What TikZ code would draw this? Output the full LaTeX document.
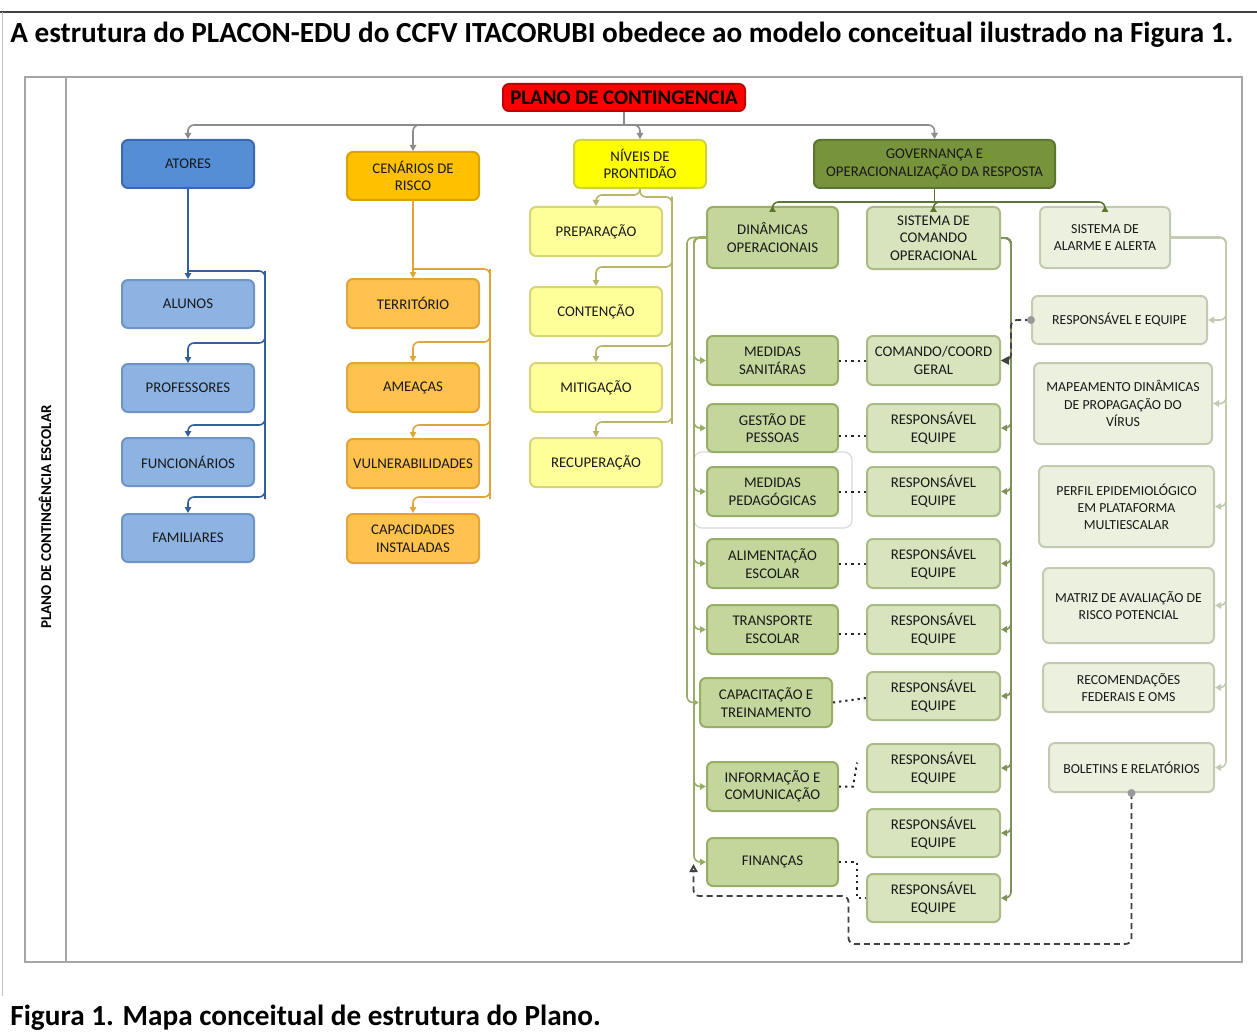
\documentclass[tikz,border=0pt]{standalone}
\usepackage{fontspec}
\setmainfont{Carlito}
\usetikzlibrary{arrows.meta,calc}
\definecolor{cRed}{HTML}{FF0000}
\definecolor{cRedD}{HTML}{C00000}
\definecolor{cBlue}{HTML}{558ED5}
\definecolor{cBlueD}{HTML}{3A6AAE}
\definecolor{cLB}{HTML}{8DB3E2}
\definecolor{cLBD}{HTML}{6E94C6}
\definecolor{cOr}{HTML}{FFC000}
\definecolor{cOrD}{HTML}{D9A300}
\definecolor{cLO}{HTML}{FFC24F}
\definecolor{cLOD}{HTML}{E0A53A}
\definecolor{cYel}{HTML}{FFFF00}
\definecolor{cYelD}{HTML}{D2D23A}
\definecolor{cLY}{HTML}{FFFF99}
\definecolor{cLYD}{HTML}{D8D47A}
\definecolor{cGov}{HTML}{77933C}
\definecolor{cGovD}{HTML}{5C7530}
\definecolor{cMG}{HTML}{C3D69B}
\definecolor{cMGD}{HTML}{98AE66}
\definecolor{cLG}{HTML}{D7E4BD}
\definecolor{cLGD}{HTML}{A9BC86}
\definecolor{cVG}{HTML}{EBF1DE}
\definecolor{cVGD}{HTML}{C2CBB2}
\newcommand\bx[7]{\node[box,#6,minimum width={((#4)-(#2))*0.5pt},minimum height={((#5)-(#3))*0.5pt}] (#1) at ({((#2)+(#4))/2},{((#3)+(#5))/2}) {#7};}
\begin{document}
\begin{tikzpicture}[x=0.5pt,y=-0.5pt,
  box/.style={draw,rounded corners=3pt,line width=1pt,align=center,inner sep=0pt,font=\fontsize{7.4}{8.8}\selectfont,text=black!90},
  lb/.style={fill=cLB,draw=cLBD},
  lo/.style={fill=cLO,draw=cLOD},
  ly/.style={fill=cLY,draw=cLYD},
  mg/.style={fill=cMG,draw=cMGD},
  lg/.style={fill=cLG,draw=cLGD},
  vg/.style={fill=cVG,draw=cVGD,font=\fontsize{6.9}{8.6}\selectfont},
  arr/.style={-{Triangle[length=3pt,width=3.2pt]}},
  oarr/.style={-{Triangle[open,length=4pt,width=4pt]}},
  rail/.style={line width=0.8pt,rounded corners=3pt},
  gb/.style={rail,draw=black!45},
  blr/.style={rail,draw=cBlueD!90!black},
  orr/.style={rail,draw=cLOD},
  yer/.style={rail,draw=cLYD!85!black},
  gvr/.style={rail,draw=cGovD},
  dnr/.style={rail,draw=cMGD},
  scr/.style={rail,draw=cGovD!80},
  sar/.style={rail,draw=cVGD},
  dotc/.style={line width=1pt,draw=black!85,dash pattern=on 1.1pt off 2pt},
  dshc/.style={line width=0.9pt,draw=black!75,dash pattern=on 3pt off 2pt,rounded corners=3pt}]
\useasboundingbox (0,0) rectangle (1257,1032);
\fill[white] (0,0) rectangle (1257,1032);
% page decoration
\draw[line width=1.1pt,draw=black!75] (0,12) -- (1257,12);
\draw[line width=0.5pt,draw=black!25] (2,12) -- (2,996);
\node[anchor=west,inner sep=0pt,font=\fontsize{14.6}{16}\selectfont\bfseries] (title) at (10,35) {A estrutura do PLACON-EDU do CCFV ITACORUBI obedece ao modelo conceitual ilustrado na Figura 1.};
\node[anchor=west,inner sep=0pt,font=\fontsize{14.6}{16}\selectfont\bfseries] (caption) at (10,1018) {Figura 1. Mapa conceitual de estrutura do Plano.};
% frame
\draw[line width=1.2pt,draw=black!35] (25,77) rectangle (1242,962);
\draw[line width=1.2pt,draw=black!35] (66,77) -- (66,962);
\node[rotate=90,font=\fontsize{7.5}{8}\selectfont\bfseries] (side) at (45,517) {PLANO DE CONTINGÊNCIA ESCOLAR};
% nodes
\bx{plano}{503}{84}{745}{111}{fill=cRed,draw=cRedD,text=black,font=\fontsize{10.4}{12}\selectfont\bfseries}{PLANO DE CONTINGENCIA}
\bx{atores}{122}{140}{254}{188}{fill=cBlue,draw=cBlueD}{ATORES}
\bx{alunos}{122}{280}{254}{328}{lb}{ALUNOS}
\bx{prof}{122}{364}{254}{412}{lb}{PROFESSORES}
\bx{func}{122}{438}{254}{486}{lb}{FUNCIONÁRIOS}
\bx{fam}{122}{514}{254}{562}{lb}{FAMILIARES}
\bx{cen}{347}{152}{479}{200}{fill=cOr,draw=cOrD}{CENÁRIOS DE\\RISCO}
\bx{terr}{347}{279}{479}{328}{lo}{TERRITÓRIO}
\bx{ame}{347}{363}{479}{412}{lo}{AMEAÇAS}
\bx{vul}{347}{439}{479}{488}{lo}{VULNERABILIDADES}
\bx{capi}{347}{514}{479}{563}{lo}{CAPACIDADES\\INSTALADAS}
\bx{niv}{574}{140}{706}{188}{fill=cYel,draw=cYelD}{NÍVEIS DE\\PRONTIDÃO}
\bx{prep}{530}{207}{662}{256}{ly}{PREPARAÇÃO}
\bx{cont}{530}{287}{662}{336}{ly}{CONTENÇÃO}
\bx{mit}{530}{363}{662}{412}{ly}{MITIGAÇÃO}
\bx{rec}{530}{438}{662}{487}{ly}{RECUPERAÇÃO}
\bx{gov}{814}{140}{1055}{188}{fill=cGov,draw=cGovD}{GOVERNANÇA E\\OPERACIONALIZAÇÃO DA RESPOSTA}
\bx{din}{707}{207}{838}{268}{mg}{DINÂMICAS\\OPERACIONAIS}
\bx{sco}{867}{207}{1000}{269}{lg}{SISTEMA DE\\COMANDO\\OPERACIONAL}
\bx{sal}{1040}{207}{1170}{268}{vg}{SISTEMA DE\\ALARME E ALERTA}
% extra faint outline
\draw[draw=black!15,line width=0.6pt,rounded corners=4pt] (694,452) rectangle (852,528);
\bx{ms}{707}{336}{838}{385}{mg}{MEDIDAS\\SANITÁRAS}
\bx{gp}{707}{404}{838}{452}{mg}{GESTÃO DE\\PESSOAS}
\bx{mp}{707}{467}{838}{516}{mg}{MEDIDAS\\PEDAGÓGICAS}
\bx{ae}{707}{539}{838}{588}{mg}{ALIMENTAÇÃO\\ESCOLAR}
\bx{te}{707}{605}{838}{654}{mg}{TRANSPORTE\\ESCOLAR}
\bx{ct}{700}{678}{832}{727}{mg}{CAPACITAÇÃO E\\TREINAMENTO}
\bx{ic}{707}{762}{838}{811}{mg}{INFORMAÇÃO E\\COMUNICAÇÃO}
\bx{fi}{707}{838}{838}{886}{mg}{FINANÇAS}
\bx{cc}{867}{336}{1000}{385}{lg}{COMANDO/COORD\\GERAL}
\bx{r1}{867}{404}{1000}{452}{lg}{RESPONSÁVEL\\EQUIPE}
\bx{r2}{867}{467}{1000}{516}{lg}{RESPONSÁVEL\\EQUIPE}
\bx{r3}{867}{539}{1000}{588}{lg}{RESPONSÁVEL\\EQUIPE}
\bx{r4}{867}{605}{1000}{654}{lg}{RESPONSÁVEL\\EQUIPE}
\bx{r5}{867}{672}{1000}{720}{lg}{RESPONSÁVEL\\EQUIPE}
\bx{r6}{867}{744}{1000}{792}{lg}{RESPONSÁVEL\\EQUIPE}
\bx{r7}{867}{809}{1000}{857}{lg}{RESPONSÁVEL\\EQUIPE}
\bx{r8}{867}{874}{1000}{922}{lg}{RESPONSÁVEL\\EQUIPE}
\bx{rq}{1032}{296}{1207}{344}{vg}{RESPONSÁVEL E EQUIPE}
\bx{map}{1034}{363}{1212}{444}{vg}{MAPEAMENTO DINÂMICAS\\DE PROPAGAÇÃO DO\\VÍRUS}
\bx{per}{1039}{466}{1214}{547}{vg}{PERFIL EPIDEMIOLÓGICO\\EM PLATAFORMA\\MULTIESCALAR}
\bx{mat}{1043}{568}{1214}{643}{vg}{MATRIZ DE AVALIAÇÃO DE\\RISCO POTENCIAL}
\bx{recf}{1043}{663}{1214}{712}{vg}{RECOMENDAÇÕES\\FEDERAIS E OMS}
\bx{bol}{1049}{743}{1214}{792}{vg}{BOLETINS E RELATÓRIOS}
% top bus
\draw[gb] (plano.south) -- ++(0,13) coordinate (b0);
\foreach \n in {atores,cen,niv,gov} \draw[gb,arr] (b0) -| (\n.north);
% ATORES rail
\draw[blr,arr] (atores.south) -- (alunos.north);
\coordinate (aR) at ($(atores.south)+(77,82)$);
\draw[blr] ($(atores.south)+(0,82)$) -- (aR) -- ($(aR)+(0,228)$);
\draw[blr,arr] (aR) |- ($(prof.north)+(0,-20)$) -- (prof.north);
\draw[blr,arr] (aR) |- ($(func.north)+(0,-12)$) -- (func.north);
\draw[blr,arr] (aR) |- ($(fam.north)+(0,-16)$) -- (fam.north);
% CENARIOS rail
\draw[orr,arr] (cen.south) -- (terr.north);
\coordinate (cR) at ($(cen.south)+(77,68)$);
\draw[orr] ($(cen.south)+(0,68)$) -- (cR) -- ($(cR)+(0,230)$);
\draw[orr,arr] (cR) |- ($(ame.north)+(0,-20)$) -- (ame.north);
\draw[orr,arr] (cR) |- ($(vul.north)+(0,-13)$) -- (vul.north);
\draw[orr,arr] (cR) |- ($(capi.north)+(0,-16)$) -- (capi.north);
% NIVEIS rail
\coordinate (nR) at ($(niv.south)+(32,8)$);
\draw[yer] (niv.south) -- ++(0,8) -- (nR) -- ($(nR)+(0,227)$);
\draw[yer,arr] (niv.south) |- ($(prep.north)+(0,-11)$) -- (prep.north);
\draw[yer,arr] (nR) |- ($(cont.north)+(0,-19)$) -- (cont.north);
\draw[yer,arr] (nR) |- ($(mit.north)+(0,-16)$) -- (mit.north);
\draw[yer,arr] (nR) |- ($(rec.north)+(0,-15)$) -- (rec.north);
% GOVERNANCA bus
\draw[gvr] (gov.south) -- ++(0,13) coordinate (g0);
\foreach \n in {din,sco,sal} \draw[gvr,arr] (g0) -| (\n.north);
% DINAMICAS rail
\foreach \n in {ms,gp,mp,ae,te,ic,fi} \draw[dnr,arr] (din.west) -- ++(-12,0) |- (\n.west);
\draw[dnr,arr] (din.west) -- ++(-19,0) |- (ct.west);
% SISTEMA DE COMANDO rail
\foreach \n in {cc,r1,r2,r3,r4,r5,r6,r7,r8} \draw[scr,arr] (sco.east) -- ++(10,0) |- (\n.east);
% SISTEMA DE ALARME rail
\foreach \n in {rq,map,per,mat,recf,bol} \draw[sar,arr] (sal.east) -- ++(55,0) |- (\n.east);
% dotted links
\draw[dotc] (ms.east) -- (cc.west);
\draw[dotc] ([yshift=-4pt]gp.east) -- ([yshift=-4pt]r1.west);
\draw[dotc] (mp.east) -- (r2.west);
\draw[dotc] (ae.east) -- (r3.west);
\draw[dotc] ([yshift=-2pt]te.east) -- ([yshift=-2pt]r4.west);
\draw[dotc] (ct.east) -- ([yshift=-1pt]r5.west);
\draw[dotc] (ic.east) -- ++(14,0) -- ++(4,-24);
\draw[dotc] (fi.east) -- ++(18,0) |- (r8.west);
% dashed links
\draw[dshc,oarr] (rq.west) -- ++(-20,0) |- (cc.east);
\fill[black!40] (rq.west) circle (2pt);
\draw[dshc,oarr] (bol.south) -- ++(0,151) -- ++(-283,0) -- ++(0,-48) -- ++(-155,0) -- ++(0,-32);
\fill[black!40] (bol.south) circle (2pt);
\end{tikzpicture}
\end{document}
